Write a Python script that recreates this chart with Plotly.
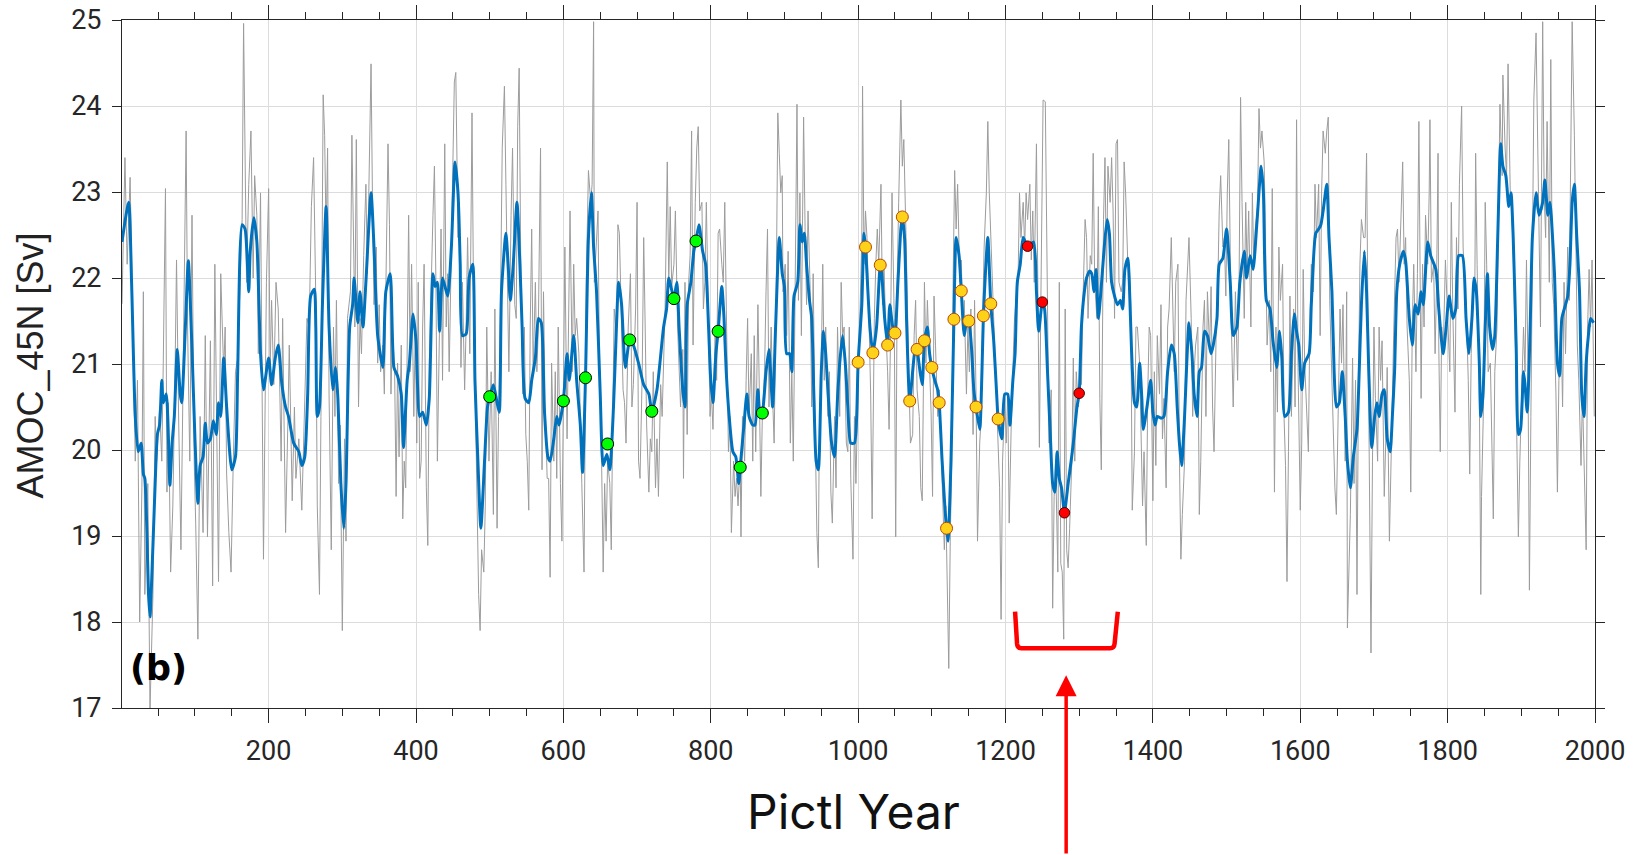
import plotly.graph_objects as go

# ---------------- data ----------------
gray_years_a = [1, 5, 8, 12, 17, 19, 22, 25, 28, 30,
                32, 36, 39, 43, 46, 48, 52, 55, 57, 60,
                62, 64, 67, 70, 73, 75, 78, 81, 84, 88,
                90, 93, 96, 99, 101, 104, 107, 111, 114, 117,
                121, 124, 127, 130, 132, 135, 139, 141, 143, 146,
                149, 152, 155, 158, 161, 164, 166, 170, 173, 176,
                179, 181, 184, 186, 189, 191, 193, 197, 200, 202,
                204, 207, 210, 213, 217, 219, 223, 226, 228, 232,
                235, 237, 241, 245, 248]
gray_vals_a = [21.7, 23.4, 22.16, 23.17, 20.81, 19.87, 20.81, 18.0, 19.56, 21.84,
               18.32, 19.61, 16.97, 18.32, 20.39, 19.87, 20.5, 19.87, 21.01, 23.04,
               19.51, 20.55, 18.58, 19.35, 20.91, 22.21, 20.29, 18.84, 20.91, 23.71,
               21.43, 19.87, 22.73, 19.87, 19.15, 17.8, 20.39, 19.04, 21.33, 18.99,
               21.27, 18.42, 22.16, 19.87, 18.47, 22.05, 20.91, 21.43, 19.72, 19.04,
               18.58, 19.87, 20.91, 21.07, 21.95, 22.68, 24.96, 21.95, 23.09, 23.71,
               22.0, 23.19, 22.73, 21.12, 22.99, 20.65, 18.73, 21.95, 23.04, 20.91,
               21.74, 20.76, 21.95, 21.64, 19.87, 21.53, 19.04, 20.29, 21.22, 19.41,
               20.5, 19.67, 20.13, 19.3, 20.39]

gray_years_b = [252, 255, 258, 261, 264, 266, 269, 271, 274, 276,
                278, 280, 282, 285, 288, 290, 292, 295, 297, 300,
                303, 305, 307, 311, 313, 315, 317, 319, 322, 324,
                326, 329, 332, 334, 337, 339, 341, 343, 346, 348,
                350, 352, 355, 357, 359, 362, 364, 366, 368, 371,
                373, 375, 377, 380, 382, 384, 386, 390, 392, 394,
                397, 399, 401, 403, 405, 407, 409, 411, 414, 416,
                418, 420, 423, 425, 427, 429, 432, 434, 436, 439,
                441, 443, 445, 448, 450, 452, 454, 457, 459, 461,
                463, 466, 468, 470, 473, 476, 478, 480, 482, 485,
                487, 489, 492, 494]
gray_vals_b = [21.53, 21.43, 22.83, 23.4, 21.74, 19.35, 18.32, 20.39, 24.13, 23.66,
               22.47, 23.51, 20.65, 18.84, 21.43, 20.39, 21.74, 19.61, 20.29, 17.9,
               20.13, 18.94, 21.53, 21.84, 23.66, 22.57, 21.43, 23.61, 20.5, 21.53,
               21.12, 22.26, 23.09, 22.05, 23.51, 24.49, 22.83, 21.69, 22.36, 21.01,
               21.69, 20.91, 21.22, 20.65, 21.84, 23.56, 22.62, 20.65, 21.43, 20.91,
               19.46, 21.01, 19.92, 21.22, 19.2, 19.87, 19.56, 22.73, 20.91, 22.16,
               20.39, 21.43, 20.08, 21.95, 19.67, 19.87, 21.43, 22.16, 19.56, 18.89,
               21.01, 21.84, 22.73, 23.3, 21.95, 19.87, 21.43, 22.57, 20.81, 23.56,
               21.43, 22.05, 20.91, 22.21, 23.51, 24.28, 24.39, 22.47, 22.88, 20.96,
               21.95, 20.7, 21.43, 22.47, 21.12, 23.92, 21.84, 20.81, 19.67, 18.32,
               17.9, 18.84, 18.58, 19.35]

gray_years_c = [496, 499, 502, 505, 507, 510, 512, 514, 517, 520,
                522, 524, 526, 529, 531, 534, 536, 538, 540, 542,
                545, 547, 549, 551, 553, 555, 557, 559, 562, 564,
                566, 569, 571, 573, 575, 578, 580, 582, 584, 587,
                589, 591, 593, 596, 598, 600, 602, 605, 607, 609,
                612, 614, 616, 618, 621, 623, 625, 628, 631, 634,
                637, 639, 641, 642, 645, 647, 649, 651, 654, 656,
                658, 660, 663, 665, 667, 669, 672, 674, 676, 679,
                681, 683, 685, 688, 691, 693, 695, 698, 700, 702,
                704, 707, 709, 711, 713, 716, 718, 720, 722, 725,
                727, 729, 732, 734, 736, 738, 741, 743, 745, 747,
                750]
gray_vals_c = [21.43, 19.87, 20.91, 19.25, 21.64, 19.09, 20.39, 21.22, 23.51, 24.23,
               23.09, 21.69, 20.91, 22.73, 23.51, 21.69, 21.53, 23.76, 24.44, 22.31,
               20.65, 21.43, 20.18, 19.87, 19.3, 21.43, 22.57, 20.91, 21.95, 20.91,
               21.43, 23.51, 19.77, 21.84, 20.6, 19.67, 19.67, 18.52, 21.01, 19.87,
               20.91, 19.67, 21.43, 19.61, 18.94, 20.6, 22.36, 20.13, 21.74, 22.78,
               20.91, 22.16, 21.33, 21.53, 21.12, 20.13, 19.61, 18.58, 21.95, 23.25,
               22.88, 23.09, 24.98, 21.95, 22.47, 22.78, 20.91, 20.39, 18.58, 19.61,
               18.94, 19.87, 19.61, 18.84, 20.39, 21.64, 21.33, 22.62, 22.52, 21.43,
               20.7, 20.55, 20.08, 21.43, 22.05, 20.5, 20.76, 21.64, 22.88, 19.87,
               19.67, 20.91, 22.47, 21.43, 20.29, 19.51, 20.13, 19.98, 20.91, 19.56,
               20.13, 19.46, 20.76, 20.39, 21.17, 21.64, 23.35, 21.95, 22.83, 21.9,
               22.16]

gray_years_d = [752, 755, 757, 759, 762, 763, 765, 768, 770, 772,
                774, 776, 779, 781, 783, 785, 788, 790, 792, 794,
                797, 799, 801, 803, 806, 808, 810, 812, 815, 817,
                819, 822, 824, 826, 828, 831, 833, 835, 837, 840,
                841, 843, 846, 848, 850, 852, 855, 857, 859, 861,
                864, 866, 868, 870, 873, 875, 877, 879, 882, 884,
                886, 889, 891, 893, 895, 897, 898, 901, 903, 905,
                908, 910, 912, 914, 917, 919, 921, 923, 926, 928,
                930, 932, 935, 937, 939, 941, 944, 946, 947, 950,
                952, 954, 956, 959, 961, 963, 965, 968, 970, 972,
                975, 977, 979, 981, 984, 986, 988, 990, 993, 995,
                997, 999]
gray_vals_d = [22.78, 21.43, 20.81, 20.5, 21.17, 19.67, 21.95, 20.18, 21.95, 22.26,
               23.71, 21.22, 22.88, 23.51, 23.76, 22.78, 22.88, 21.64, 21.95, 22.88,
               21.43, 20.39, 20.65, 20.24, 21.43, 20.81, 22.52, 22.57, 22.16, 21.95,
               22.88, 20.7, 19.98, 20.39, 19.04, 19.87, 19.46, 19.67, 19.35, 19.87,
               18.99, 20.39, 19.87, 20.81, 21.53, 20.39, 21.12, 19.87, 21.33, 19.98,
               21.69, 20.65, 19.46, 20.39, 20.91, 21.84, 22.57, 20.5, 21.43, 20.6,
               20.08, 21.95, 23.92, 23.45, 22.99, 23.19, 21.84, 22.16, 21.33, 22.31,
               20.08, 20.91, 19.87, 21.43, 24.02, 21.74, 22.99, 21.33, 23.87, 22.57,
               21.69, 22.78, 21.84, 20.5, 22.05, 20.6, 19.04, 18.63, 19.87, 21.01,
               22.16, 20.81, 21.43, 20.39, 20.91, 19.51, 19.15, 20.39, 19.56, 21.43,
               20.39, 21.95, 21.33, 21.43, 20.08, 19.98, 21.43, 19.67, 18.73, 20.39,
               19.61, 20.39]

gray_years_e = [1002, 1003, 1005, 1006, 1008, 1010, 1012, 1015, 1017, 1019,
                1022, 1024, 1026, 1028, 1031, 1033, 1035, 1037, 1040, 1042,
                1044, 1046, 1049, 1051, 1053, 1055, 1058, 1060, 1062, 1065,
                1067, 1069, 1071, 1074, 1076, 1078, 1080, 1083, 1085, 1087,
                1090, 1092, 1094, 1096, 1099, 1101, 1103, 1105, 1108, 1110,
                1112, 1114, 1117, 1119, 1121, 1123, 1125, 1127, 1129, 1131,
                1133, 1135, 1138, 1140, 1142, 1144, 1147, 1149, 1151, 1153,
                1156, 1158, 1160, 1162, 1165, 1167, 1169, 1171, 1174, 1176,
                1178, 1181, 1183, 1185, 1187, 1190, 1192, 1194, 1196, 1199,
                1201, 1203, 1205, 1208, 1210, 1212, 1214, 1217, 1219, 1221,
                1224, 1226, 1228, 1230, 1233, 1235, 1237, 1239, 1242, 1244,
                1246, 1248, 1251]
gray_vals_e = [21.43, 21.95, 22.47, 24.23, 22.16, 22.78, 22.47, 21.43, 20.65, 19.2,
               21.53, 22.16, 22.57, 22.16, 23.09, 21.69, 22.21, 21.53, 20.91, 20.24,
               21.33, 22.99, 21.53, 18.99, 21.95, 22.88, 24.07, 23.3, 23.61, 22.47,
               21.43, 20.81, 20.08, 20.18, 21.33, 21.74, 20.7, 20.39, 19.56, 19.41,
               21.95, 21.01, 21.74, 21.12, 20.44, 19.46, 21.79, 21.22, 20.39, 20.7,
               20.08, 19.46, 18.84, 19.35, 18.42, 17.46, 18.94, 19.87, 22.05, 23.25,
               22.57, 23.09, 21.95, 22.21, 21.43, 21.74, 20.65, 21.43, 20.91, 21.64,
               20.18, 21.74, 20.65, 18.94, 20.08, 20.39, 21.53, 22.36, 22.99, 23.82,
               22.99, 22.21, 21.84, 21.33, 20.91, 19.87, 19.56, 18.03, 19.87, 20.6,
               20.08, 20.65, 19.15, 20.39, 21.01, 21.48, 21.74, 21.95, 22.99, 22.47,
               22.88, 22.36, 22.99, 22.68, 23.09, 22.21, 22.78, 21.95, 23.56, 21.43,
               20.03, 21.74, 24.07]

gray_years_f = [1254, 1257, 1259, 1262, 1264, 1266, 1268, 1271, 1273, 1275,
                1277, 1279, 1281, 1283, 1285, 1287, 1290, 1292, 1294, 1296,
                1299, 1301, 1303, 1305, 1308, 1310, 1312, 1315, 1317, 1319,
                1321, 1324, 1326, 1328, 1330, 1333, 1335, 1337, 1339, 1342,
                1344, 1346, 1348, 1350, 1352, 1354, 1357, 1359, 1361, 1363,
                1366, 1368, 1370, 1372, 1375, 1377, 1379, 1382, 1384, 1386,
                1388, 1391, 1393, 1395, 1397, 1400, 1402, 1404, 1406, 1409,
                1411, 1413, 1415, 1418, 1420, 1422, 1425, 1427, 1429, 1431,
                1434, 1436, 1438, 1440, 1443, 1445, 1447, 1449, 1452, 1454,
                1456, 1458, 1461, 1463, 1465, 1468, 1470, 1472, 1474, 1477,
                1479, 1481, 1483, 1486, 1488, 1490, 1492, 1495, 1497, 1499,
                1501]
gray_vals_f = [24.05, 21.43, 20.08, 20.7, 18.16, 19.46, 19.87, 18.58, 21.95, 18.68,
               18.58, 17.8, 21.64, 18.84, 18.63, 19.09, 19.87, 21.07, 19.87, 20.91,
               20.5, 20.91, 20.76, 21.69, 22.68, 22.47, 21.53, 22.26, 22.16, 23.45,
               21.95, 21.53, 22.83, 20.6, 19.77, 22.68, 23.4, 21.95, 23.3, 22.88,
               23.4, 22.78, 21.53, 23.56, 23.61, 21.95, 21.84, 21.95, 23.35, 22.99,
               22.16, 22.16, 21.69, 19.3, 19.98, 21.43, 21.43, 21.01, 20.13, 19.35,
               19.98, 18.89, 20.65, 21.43, 21.33, 19.41, 20.91, 19.82, 21.33, 20.65,
               21.69, 20.13, 20.6, 19.56, 21.43, 21.64, 22.47, 21.43, 20.91, 21.95,
               22.16, 19.92, 18.73, 19.25, 19.87, 21.74, 22.16, 22.47, 21.53, 20.39,
               20.91, 21.22, 21.43, 19.25, 19.87, 21.43, 21.74, 20.39, 21.84, 21.17,
               21.9, 20.5, 19.98, 21.43, 21.84, 22.78, 23.19, 22.36, 22.47, 21.79,
               22.99]

gray_years_g = [1503, 1506, 1509, 1512, 1515, 1517, 1519, 1521, 1524, 1526,
                1528, 1530, 1533, 1535, 1537, 1539, 1542, 1544, 1546, 1548,
                1551, 1553, 1555, 1558, 1560, 1562, 1565, 1567, 1569, 1571,
                1573, 1576, 1578, 1580, 1582, 1584, 1586, 1588, 1591, 1593,
                1595, 1597, 1600, 1602, 1604, 1606, 1609, 1611, 1613, 1615,
                1618, 1620, 1622, 1625, 1627, 1629, 1631, 1634, 1636, 1638,
                1640, 1643, 1645, 1647, 1649, 1652, 1654, 1656, 1658, 1661,
                1663, 1664, 1666, 1668, 1671, 1673, 1675, 1677, 1679, 1681,
                1683, 1686, 1688, 1690, 1692, 1694, 1696, 1698, 1700, 1702,
                1705, 1707, 1709, 1711, 1714, 1716, 1718, 1721, 1723, 1725,
                1727, 1730, 1732, 1734, 1736, 1739, 1741]
gray_vals_g = [23.61, 21.64, 20.5, 21.84, 20.81, 21.95, 24.1, 22.88, 21.53, 22.88,
               22.05, 22.78, 21.43, 22.99, 22.16, 22.57, 22.83, 23.97, 23.51, 23.71,
               23.35, 22.36, 21.22, 21.74, 20.91, 23.04, 19.51, 21.43, 20.44, 22.36,
               21.74, 22.16, 20.39, 19.82, 18.47, 19.98, 21.79, 20.39, 21.64, 20.5,
               23.84, 20.96, 19.3, 20.08, 22.1, 21.01, 20.44, 19.98, 21.43, 22.16,
               21.84, 23.09, 22.47, 23.09, 21.33, 22.99, 23.71, 23.45, 23.71, 23.87,
               21.74, 20.81, 20.13, 19.56, 19.25, 20.65, 21.64, 21.01, 21.69, 19.87,
               21.84, 17.93, 18.73, 19.25, 21.07, 19.61, 20.81, 18.32, 20.81, 22.16,
               22.68, 22.47, 22.47, 23.45, 21.43, 19.82, 17.64, 19.87, 21.43, 20.6,
               19.87, 21.43, 20.81, 21.27, 19.46, 20.08, 20.96, 18.94, 19.87, 20.65,
               21.43, 22.47, 22.57, 21.95, 22.62, 23.35, 22.16]

gray_years_h = [1743, 1745, 1748, 1750, 1752, 1754, 1757, 1759, 1761, 1764,
                1766, 1768, 1770, 1773, 1775, 1776, 1778, 1781, 1783, 1785,
                1787, 1788, 1790, 1792, 1794, 1797, 1799, 1801, 1803, 1805,
                1807, 1810, 1812, 1814, 1816, 1819, 1821, 1823, 1826, 1828,
                1830, 1832, 1835, 1837, 1838, 1840, 1843, 1845, 1846, 1849,
                1851, 1853, 1855, 1858, 1860, 1862, 1864, 1867, 1869, 1871,
                1874, 1875, 1878, 1880, 1882, 1885, 1887, 1889, 1892, 1894,
                1896, 1898, 1901, 1903, 1905, 1907, 1909, 1911, 1913, 1915,
                1917, 1920, 1922, 1924, 1926, 1929, 1931, 1933, 1935, 1938,
                1940, 1942, 1944, 1947, 1949, 1951, 1954, 1956, 1958, 1960,
                1963, 1965, 1967, 1969, 1972, 1974, 1976, 1978, 1981, 1983,
                1985, 1988, 1990, 1992, 1994, 1996, 1999]
gray_vals_h = [22.47, 21.43, 20.81, 19.51, 21.43, 22.16, 20.91, 22.05, 23.82, 20.6,
               22.16, 21.43, 22.73, 22.16, 22.99, 23.84, 21.95, 22.16, 21.12, 21.95,
               23.45, 21.22, 19.98, 21.43, 21.12, 22.21, 21.74, 21.43, 20.91, 22.88,
               21.64, 20.44, 22.47, 21.64, 23.09, 24.0, 22.36, 21.95, 21.43, 20.81,
               19.72, 21.12, 21.95, 21.95, 23.45, 22.16, 20.76, 18.32, 19.46, 20.65,
               22.88, 22.16, 20.91, 21.01, 20.08, 19.2, 20.91, 21.43, 22.78, 24.02,
               23.19, 24.36, 23.51, 23.19, 24.49, 22.99, 22.78, 22.31, 21.17, 19.82,
               18.99, 19.87, 20.91, 21.43, 20.91, 22.21, 21.01, 18.37, 20.39, 22.68,
               24.07, 24.85, 23.51, 22.68, 21.43, 24.98, 22.99, 22.47, 23.82, 21.95,
               24.54, 21.95, 21.69, 20.65, 19.51, 20.81, 21.43, 20.5, 21.95, 21.12,
               22.36, 21.74, 23.09, 24.98, 23.66, 22.26, 21.22, 20.81, 19.82, 20.65,
               19.87, 18.84, 21.43, 22.1, 21.43, 22.21, 20.39]

blue_years_a = [1, 10, 14, 19, 23, 27, 30, 32, 37, 39,
                41, 46, 49, 52, 55, 57, 61, 64, 66, 69,
                72, 76, 80, 82, 87, 91, 96, 100, 104, 107,
                111, 114, 117, 121, 125, 129, 132, 135, 139, 143,
                150, 155, 158, 164, 168, 173, 175, 180, 184, 189,
                193, 200, 204, 209, 213, 218, 223, 227, 234, 241,
                245]
blue_vals_a = [22.42, 22.88, 21.95, 20.39, 19.98, 20.08, 19.72, 19.67, 18.32, 18.06,
               18.42, 19.61, 20.18, 20.29, 20.81, 20.55, 20.65, 20.13, 19.59, 20.08,
               20.39, 21.17, 20.65, 20.55, 21.43, 22.2, 21.17, 20.13, 19.38, 19.82,
               19.92, 20.31, 20.08, 20.13, 20.34, 20.18, 20.55, 20.39, 21.07, 20.5,
               19.77, 19.92, 20.91, 22.62, 22.57, 21.84, 22.31, 22.7, 22.42, 21.12,
               20.7, 21.07, 20.76, 21.07, 21.22, 20.76, 20.5, 20.39, 20.08, 19.98,
               19.82]

blue_years_b = [249, 253, 257, 262, 264, 266, 269, 273, 278, 282,
                287, 291, 294, 298, 302, 305, 310, 314, 316, 321,
                324, 328, 332, 339, 343, 348, 355, 359, 365, 370,
                375, 380, 383, 388, 391, 396, 400, 405, 409, 414,
                418, 423, 426, 429, 432, 436, 443, 448, 453, 457,
                460, 463, 468, 472, 477, 480, 484, 488, 493]
blue_vals_b = [19.92, 20.65, 21.79, 21.87, 21.43, 20.39, 20.5, 21.69, 22.83, 21.43,
               20.7, 20.96, 20.6, 19.61, 19.09, 19.61, 21.43, 21.69, 22.0, 21.48,
               21.84, 21.43, 21.95, 22.99, 22.36, 21.33, 20.96, 21.84, 22.05, 20.96,
               20.86, 20.65, 20.03, 20.81, 21.01, 21.58, 21.27, 20.39, 20.44, 20.29,
               20.6, 22.05, 21.9, 21.95, 21.38, 22.0, 21.79, 22.36, 23.35, 22.99,
               22.16, 21.33, 21.35, 22.0, 22.16, 20.81, 19.87, 19.09, 19.87]

blue_years_c = [497, 500, 505, 510, 513, 516, 522, 525, 528, 532,
                537, 541, 544, 548, 553, 557, 562, 566, 570, 574,
                579, 582, 587, 591, 594, 600, 605, 608, 614, 618,
                623, 626, 630, 634, 638, 641, 645, 650, 654, 659,
                663, 668, 672, 675, 679, 684, 690, 695, 702, 709,
                716, 720, 727, 731, 736, 740, 743, 746, 750]
blue_vals_c = [20.5, 20.62, 20.76, 20.55, 20.44, 21.84, 22.52, 22.16, 21.74, 22.16,
               22.88, 22.16, 21.43, 20.6, 20.55, 20.81, 21.07, 21.53, 21.48, 20.5,
               19.92, 19.87, 20.13, 20.39, 20.29, 20.57, 21.12, 20.81, 21.33, 20.81,
               20.29, 19.74, 20.84, 22.47, 22.99, 22.36, 21.84, 20.65, 19.82, 19.95,
               19.77, 20.5, 21.43, 21.95, 21.69, 20.96, 21.28, 21.22, 21.01, 20.76,
               20.65, 20.45, 20.7, 21.01, 21.43, 21.64, 22.0, 21.9, 21.76]

blue_years_d = [754, 757, 762, 765, 768, 773, 777, 780, 784, 789,
                793, 797, 800, 803, 807, 810, 815, 818, 821, 825,
                830, 834, 838, 840, 845, 849, 852, 857, 860, 864,
                867, 870, 875, 879, 884, 888, 893, 897, 900, 903,
                907, 910, 913, 918, 921, 924, 927, 930, 934, 937,
                940, 943, 946, 950, 953, 956, 960, 964, 968, 972,
                975, 979, 983, 986, 990, 995]
blue_vals_d = [21.95, 21.43, 20.7, 20.5, 21.69, 21.95, 22.31, 22.43, 22.62, 22.31,
               22.16, 21.43, 20.81, 20.55, 21.12, 21.38, 21.9, 21.53, 20.91, 20.39,
               19.98, 19.92, 19.61, 19.8, 20.29, 20.65, 20.39, 20.29, 20.29, 20.7,
               20.39, 20.43, 20.91, 21.17, 20.5, 21.43, 22.47, 22.05, 21.9, 21.12,
               21.12, 20.91, 21.79, 21.95, 22.62, 22.42, 22.52, 22.16, 21.74, 21.53,
               20.6, 19.87, 19.77, 20.91, 21.38, 21.12, 20.55, 20.08, 19.92, 20.6,
               21.01, 21.33, 20.96, 20.5, 20.08, 20.08]

blue_years_e = [998, 1000, 1005, 1008, 1010, 1016, 1020, 1025, 1030, 1032,
                1036, 1040, 1043, 1047, 1050, 1054, 1058, 1060, 1063, 1066,
                1070, 1075, 1078, 1080, 1084, 1087, 1090, 1094, 1097, 1100,
                1104, 1108, 1110, 1114, 1118, 1120, 1122, 1126, 1130, 1133,
                1137, 1140, 1144, 1147, 1150, 1154, 1157, 1160, 1165, 1168,
                1170, 1173, 1176, 1180, 1184, 1188, 1190, 1195, 1199, 1203,
                1206, 1210, 1213, 1216, 1220, 1224, 1230, 1238, 1242, 1245,
                1250]
blue_vals_e = [20.39, 21.02, 21.69, 22.52, 22.36, 21.43, 21.13, 21.43, 22.15, 22.05,
               21.53, 21.22, 21.69, 21.43, 21.36, 21.95, 22.57, 22.71, 22.47, 21.43,
               20.57, 21.01, 21.22, 21.17, 20.91, 20.76, 21.27, 21.43, 21.12, 20.96,
               20.81, 20.7, 20.55, 19.87, 19.3, 19.09, 18.94, 19.87, 21.52, 22.47,
               22.26, 21.85, 21.33, 21.48, 21.5, 21.17, 20.7, 20.5, 20.24, 20.9,
               21.56, 22.1, 22.47, 21.7, 21.27, 20.65, 20.36, 20.13, 20.65, 20.65,
               20.29, 20.81, 21.12, 21.95, 22.16, 22.47, 22.37, 22.42, 21.84, 21.38,
               21.72]

blue_years_f = [1253, 1257, 1261, 1264, 1267, 1270, 1273, 1276, 1280, 1285,
                1289, 1292, 1297, 1300, 1303, 1307, 1310, 1314, 1317, 1320,
                1323, 1326, 1329, 1334, 1338, 1341, 1344, 1348, 1352, 1356,
                1359, 1362, 1366, 1368, 1371, 1375, 1378, 1382, 1385, 1387,
                1392, 1397, 1400, 1403, 1406, 1411, 1415, 1420, 1425, 1429,
                1433, 1436, 1439, 1443, 1446, 1449, 1453, 1456, 1460, 1463,
                1466, 1470, 1474, 1479, 1482, 1487, 1490, 1495]
blue_vals_f = [21.64, 20.91, 20.13, 19.61, 19.51, 19.98, 19.67, 19.56, 19.28, 19.61,
               19.87, 20.08, 20.5, 20.66, 21.43, 21.84, 22.0, 22.08, 22.05, 21.84,
               22.1, 21.53, 21.79, 22.36, 22.68, 22.52, 21.95, 21.79, 21.69, 21.74,
               21.64, 22.1, 22.23, 21.95, 21.17, 20.55, 20.5, 21.01, 20.6, 20.24,
               20.5, 20.81, 20.44, 20.29, 20.39, 20.37, 20.39, 20.91, 21.22, 21.12,
               20.5, 20.08, 19.82, 20.39, 21.01, 21.48, 21.12, 20.65, 20.39, 20.91,
               20.96, 21.38, 21.33, 21.12, 21.22, 21.53, 22.16, 22.23]

blue_years_g = [1500, 1505, 1509, 1514, 1518, 1524, 1527, 1532, 1536, 1541,
                1547, 1550, 1554, 1559, 1563, 1568, 1572, 1575, 1579, 1584,
                1588, 1592, 1595, 1598, 1602, 1606, 1612, 1615, 1621, 1625,
                1628, 1631, 1636, 1639, 1643, 1646, 1649, 1653, 1657, 1661,
                1664, 1668, 1672, 1677, 1680, 1683, 1687, 1690, 1693, 1697,
                1701, 1704, 1707, 1711, 1714, 1718, 1722, 1725, 1728, 1731,
                1735, 1740]
blue_vals_g = [22.57, 21.95, 21.33, 21.43, 21.95, 22.31, 22.0, 22.26, 22.1, 22.62,
               23.3, 22.99, 21.74, 21.64, 21.27, 20.96, 21.38, 21.07, 20.39, 20.44,
               21.12, 21.58, 21.38, 21.22, 20.7, 21.01, 21.12, 21.69, 22.52, 22.57,
               22.62, 22.78, 23.09, 22.47, 21.84, 20.91, 20.5, 20.55, 20.91, 20.39,
               19.87, 19.56, 19.92, 20.24, 20.91, 21.69, 22.31, 21.84, 20.91, 20.03,
               20.39, 20.55, 20.39, 20.65, 20.7, 20.13, 19.98, 20.39, 20.91, 21.84,
               22.16, 22.31]

blue_years_h = [1743, 1748, 1752, 1756, 1760, 1764, 1767, 1773, 1777, 1784,
                1788, 1794, 1798, 1802, 1807, 1811, 1815, 1820, 1825, 1829,
                1833, 1836, 1839, 1843, 1845, 1848, 1851, 1854, 1857, 1861,
                1864, 1868, 1872, 1875, 1879, 1883, 1886, 1889, 1893, 1896,
                1899, 1903, 1905, 1908, 1912, 1915, 1920, 1924, 1929, 1932,
                1936, 1939, 1941, 1945, 1949, 1952, 1955, 1960, 1963, 1966,
                1969, 1972, 1975, 1979, 1982, 1985, 1988, 1991, 1994, 1998]
blue_vals_h = [22.2, 21.53, 21.22, 21.69, 21.58, 21.84, 21.69, 22.42, 22.26, 22.1,
               21.64, 21.12, 21.43, 21.79, 21.53, 21.64, 22.26, 22.26, 21.53, 21.12,
               21.53, 22.0, 21.84, 21.01, 20.39, 20.65, 21.43, 22.05, 21.43, 21.17,
               21.33, 22.47, 23.56, 23.3, 23.19, 22.83, 22.99, 22.47, 21.22, 20.18,
               20.24, 20.91, 20.76, 20.44, 21.43, 22.47, 22.99, 22.73, 22.88, 23.14,
               22.73, 22.88, 22.68, 22.05, 21.01, 20.86, 21.53, 21.69, 21.79, 22.16,
               22.88, 23.09, 22.52, 21.84, 20.65, 20.39, 21.01, 21.33, 21.53, 21.48]

green_years = [500, 600, 630, 660, 690, 720, 750, 780, 810, 840, 870]
green_vals = [20.62, 20.57, 20.84, 20.07, 21.28, 20.45, 21.76, 22.43, 21.38, 19.80, 20.43]

orange_years = [1000, 1010, 1020, 1030, 1040, 1050, 1060, 1070, 1080, 1090,
                1100, 1110, 1120, 1130, 1140, 1150, 1160, 1170, 1180, 1190]
orange_vals = [21.02, 22.36, 21.13, 22.15, 21.22, 21.36, 22.71, 20.57, 21.17, 21.27,
               20.96, 20.55, 19.09, 21.52, 21.85, 21.50, 20.50, 21.56, 21.70, 20.36]

red_years = [1230, 1250, 1280, 1300]
red_vals = [22.37, 21.72, 19.27, 20.66]

x_ticks = [200, 400, 600, 800, 1000, 1200, 1400, 1600, 1800, 2000]
y_ticks = [17, 18, 19, 20, 21, 22, 23, 24, 25]

# annotation geometry (data units)
bracket_x_top = (1213, 1352.4)
bracket_x_bot = (1215.7, 1348.0)
bracket_y = (18.12, 17.695)
arrow_tip = (1282.3, 17.38)

# ---------------- assemble ----------------
gray_years = (gray_years_a + gray_years_b + gray_years_c + gray_years_d +
              gray_years_e + gray_years_f + gray_years_g + gray_years_h)
gray_vals = (gray_vals_a + gray_vals_b + gray_vals_c + gray_vals_d +
             gray_vals_e + gray_vals_f + gray_vals_g + gray_vals_h)
blue_years = (blue_years_a + blue_years_b + blue_years_c + blue_years_d +
              blue_years_e + blue_years_f + blue_years_g + blue_years_h)
blue_vals = (blue_vals_a + blue_vals_b + blue_vals_c + blue_vals_d +
             blue_vals_e + blue_vals_f + blue_vals_g + blue_vals_h)

fig = go.Figure()
fig.add_trace(go.Scatter(x=gray_years, y=gray_vals, mode="lines",
                         line=dict(color="#9c9c9c", width=1), hoverinfo="skip"))
fig.add_trace(go.Scatter(x=blue_years, y=blue_vals, mode="lines",
                         line=dict(color="#0072BD", width=3, shape="spline", smoothing=0.6)))
fig.add_trace(go.Scatter(x=green_years, y=green_vals, mode="markers",
                         marker=dict(size=12, color="#00FF00",
                                     line=dict(color="#000000", width=1))))
fig.add_trace(go.Scatter(x=orange_years, y=orange_vals, mode="markers",
                         marker=dict(size=12, color="#FFD21A",
                                     line=dict(color="#B84A00", width=1))))
fig.add_trace(go.Scatter(x=red_years, y=red_vals, mode="markers",
                         marker=dict(size=10.5, color="#FF0000",
                                     line=dict(color="#4A0000", width=1))))

xt0, xt1 = bracket_x_top
xb0, xb1 = bracket_x_bot
yt, yb = bracket_y
path = (f"M {xt0},{yt} L {xb0},{yb + 0.05} Q {xb0 + 0.5},{yb} {xb0 + 6},{yb} "
        f"L {xb1 - 6},{yb} Q {xb1 - 0.5},{yb} {xb1},{yb + 0.05} L {xt1},{yt}")
fig.add_shape(type="path", path=path, xref="x", yref="y",
              line=dict(color="#FF0000", width=4.5), layer="above")

axis_col = "#262626"
fig.update_layout(
    width=1639, height=855,
    margin=dict(l=122, r=44, t=20, b=147, autoexpand=False),
    paper_bgcolor="white", plot_bgcolor="white",
    showlegend=False,
    xaxis=dict(range=[1, 2000], tickvals=x_ticks, ticks="outside", ticklen=14,
               tickwidth=1.2, tickcolor=axis_col, showline=True, linecolor=axis_col,
               linewidth=1.2, mirror="ticks", showgrid=True, gridcolor="#dcdcdc",
               gridwidth=1, zeroline=False, automargin=False,
               ticklabeloverflow="allow",
               tickfont=dict(family="Roboto", size=27, color=axis_col),
               ticklabelstandoff=4,
               minor=dict(dtick=50, tick0=0, ticks="outside", ticklen=7,
                          tickwidth=1.2, tickcolor=axis_col, showgrid=False)),
    yaxis=dict(range=[17, 25], tickvals=y_ticks, ticks="outside", ticklen=9,
               tickwidth=1.2, tickcolor=axis_col, showline=True, linecolor=axis_col,
               linewidth=1.2, mirror="ticks", showgrid=True, gridcolor="#dcdcdc",
               gridwidth=1, zeroline=False, automargin=False,
               ticklabeloverflow="allow",
               tickfont=dict(family="Roboto", size=27, color=axis_col),
               ticklabelstandoff=5),
    annotations=[
        dict(text="Pictl Year", xref="paper", yref="paper", x=0.4968, y=-0.151,
             xanchor="center", yanchor="middle", showarrow=False,
             font=dict(family="Inter", size=48, color="#111111")),
        dict(text="AMOC_45N [Sv]", xref="paper", yref="paper", x=-0.0621, y=0.497,
             xanchor="center", yanchor="middle", textangle=-90, showarrow=False,
             font=dict(family="Liberation Sans", size=36, color="#222222")),
        dict(text="<b>(b)</b>", xref="paper", yref="paper", x=0.004, y=0.058,
             xanchor="left", yanchor="middle", showarrow=False,
             font=dict(family="DejaVu Sans", size=35, color="#000000")),
        dict(text="", x=arrow_tip[0], y=arrow_tip[1], xref="x", yref="y",
             showarrow=True, ax=0, ay=180, arrowhead=2, arrowsize=1.2,
             arrowwidth=3.5, arrowcolor="#FF0000", standoff=0),
    ],
)

# remove the default page margin so the figure sits at the window's top-left corner
fig.write_html("out.html",
               config={"displayModeBar": False},
               post_script="document.body.style.margin='0px';")
